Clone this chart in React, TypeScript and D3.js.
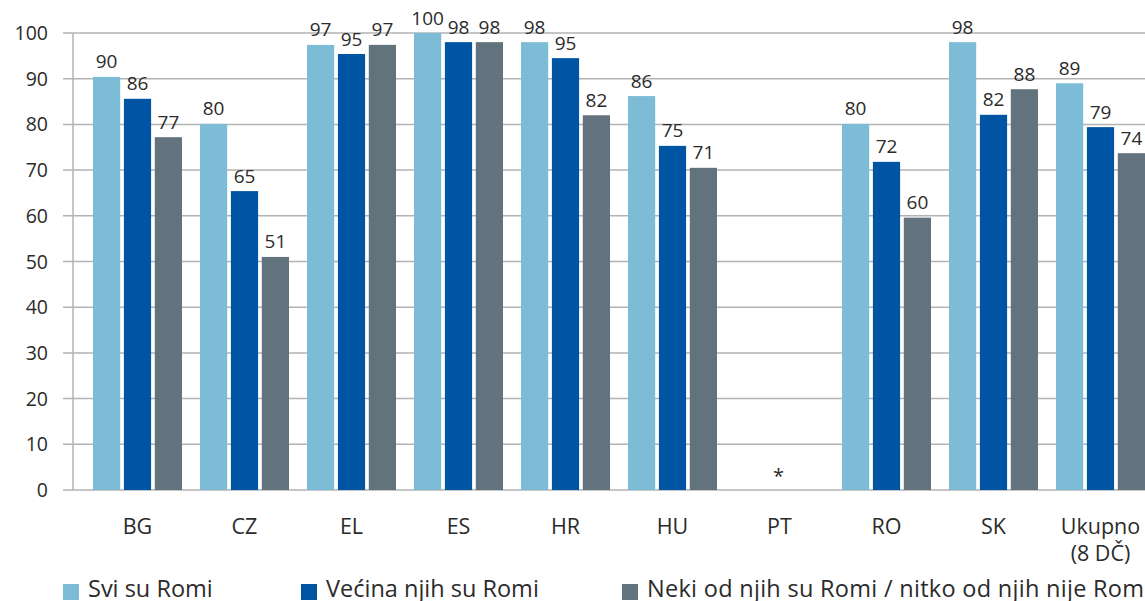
import React from "react";
import * as d3 from "d3";

const categories = ["BG", "CZ", "EL", "ES", "HR", "HU", "PT", "RO", "SK", "Ukupno\n(8 DČ)"];
const seriesNames = ["Svi su Romi", "Većina njih su Romi", "Neki od njih su Romi / nitko od njih nije Rom"];
const sviSuRomi: (number | null)[] = [90.4, 80.1, 97.4, 100, 98, 86.2, null, 80.1, 98, 89];
const vecinaRomi: (number | null)[] = [85.6, 65.4, 95.4, 98, 94.5, 75.3, null, 71.8, 82.1, 79.4];
const nekiRomi: (number | null)[] = [77.2, 51.0, 97.4, 98, 82, 70.5, null, 59.6, 87.7, 73.7];
const yTicks = [0, 10, 20, 30, 40, 50, 60, 70, 80, 90, 100];
const missingLabel = "*";

const colors = ["#7DBCD7", "#0054A4", "#63737E"];
const W = 1145;
const H = 601;
const FONT = "'Open Sans', 'Noto Sans', sans-serif";
const TEXT = "#2b2b2b";

export default function App() {
  const series = [sviSuRomi, vecinaRomi, nekiRomi];
  const y = d3.scaleLinear().domain([0, 100]).range([490, 33]);
  const x = d3.scaleBand<string>().domain(categories).range([84, 84 + 107 * categories.length]).padding(0);
  const inner = d3.scaleBand<number>().domain([0, 1, 2]).range([9, 98]).paddingInner(0.12).paddingOuter(0);
  const axisX = 73;
  const gridStart = 63;

  return (
    <svg width={W} height={H} style={{ position: "absolute", left: 0, top: 0, display: "block", background: "#fff" }}>
      {yTicks.map((t) => (
        <g key={t}>
          <line x1={gridStart} x2={W} y1={y(t)} y2={y(t)} stroke="#b3b3b3" strokeWidth={1.5} />
          <text x={48} y={y(t)} dy="0.36em" textAnchor="end" fontFamily={FONT} fontSize={19.5} fill={TEXT}>
            {t}
          </text>
        </g>
      ))}
      <line x1={axisX} x2={axisX} y1={y(100)} y2={y(0)} stroke="#b3b3b3" strokeWidth={1.5} />
      {categories.map((c, ci) => {
        const x0 = x(c)!;
        return (
          <g key={c}>
            {series.map((s, si) => {
              const v = s[ci];
              if (v == null) return null;
              const bx = x0 + inner(si)!;
              const bw = inner.bandwidth();
              return (
                <g key={si}>
                  <rect x={bx} y={y(v)} width={bw} height={y(0) - y(v)} fill={colors[si]} />
                  <text x={bx + bw / 2} y={y(v) - 8.5} textAnchor="middle" fontFamily={FONT} fontSize={19} fill={TEXT}>
                    {Math.round(v)}
                  </text>
                </g>
              );
            })}
            {series.every((s) => s[ci] == null) && (
              <text x={x0 + x.bandwidth() / 2 - 1} y={483} textAnchor="middle" fontFamily={FONT} fontSize={20} fill={TEXT}>
                {missingLabel}
              </text>
            )}
            {c.split("\n").map((line, li) => (
              <text key={li} x={x0 + x.bandwidth() / 2} y={534 + li * 27} textAnchor="middle" fontFamily={FONT} fontSize={21.5} fill={TEXT}>
                {line}
              </text>
            ))}
          </g>
        );
      })}
      {seriesNames.map((n, i) => {
        const lx = [63, 301, 622][i];
        return (
          <g key={n}>
            <rect x={lx} y={584} width={16} height={16} fill={colors[i]} />
            <text x={lx + 25} y={597} fontFamily={FONT} fontSize={23.5} fill={TEXT} textLength={i === 2 ? 497 : undefined}>
              {n}
            </text>
          </g>
        );
      })}
    </svg>
  );
}
